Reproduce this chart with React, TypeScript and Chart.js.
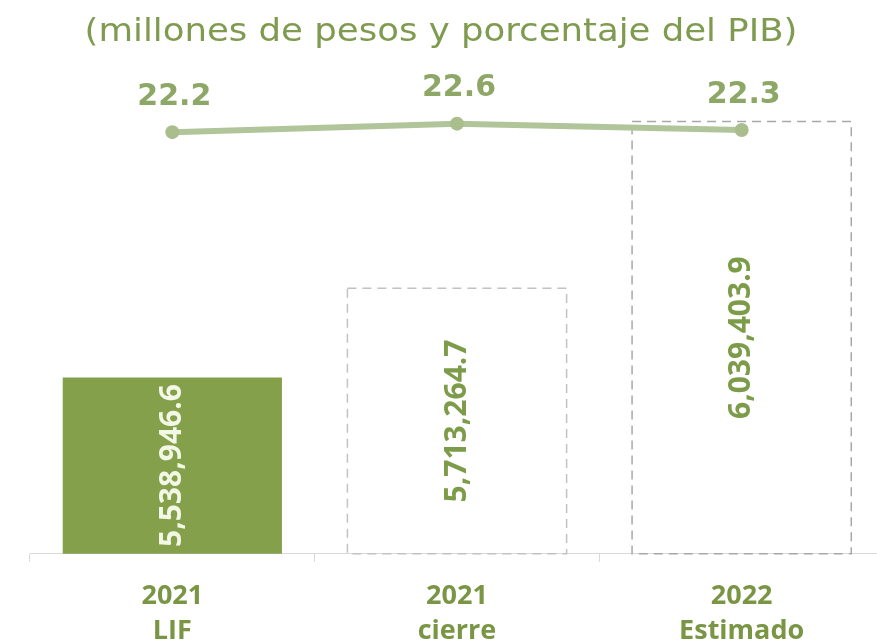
import { useEffect, useRef } from "react";
import { Chart, registerables } from "chart.js";
Chart.register(...registerables);

const categories = [["2021", "LIF"], ["2021", "cierre"], ["2022", "Estimado"]];
const amounts = [5538946.6, 5713264.7, 6039403.9];
const pibShare = [22.2, 22.6, 22.3];
const amountLabels = ["5,538,946.6", "5,713,264.7", "6,039,403.9"];
const shareLabels = ["22.2", "22.6", "22.3"];
const titleText = "(millones de pesos y porcentaje del PIB)";

const barFill = ["#84a04a", "rgba(255,255,255,0)", "rgba(255,255,255,0)"];
const dashColors = ["", "#c2c2c2", "#a8a8a8"];
const barLabelColors = ["#f3f7e6", "#7d9c49", "#7d9c49"];

const overlay = {
  id: "overlay",
  afterDatasetDraw(chart: any, args: any) {
    if (args.index !== 1) return;
    const ctx = chart.ctx;
    const bottom = chart.chartArea.bottom;
    const meta = chart.getDatasetMeta(1);
    meta.data.forEach((el: any, i: number) => {
      if (i === 0) return;
      const { x, y, width } = el.getProps(["x", "y", "width"], true);
      ctx.save();
      ctx.setLineDash([9, 6]);
      ctx.strokeStyle = dashColors[i];
      ctx.lineWidth = 1.5;
      ctx.strokeRect(x - width / 2, y, width, bottom - y);
      ctx.restore();
    });
  },
  afterDraw(chart: any) {
    const ctx = chart.ctx;
    const bottom = chart.chartArea.bottom;
    ctx.save();
    // title
    ctx.save();
    ctx.fillStyle = "#7f9b50";
    ctx.font = '32px "DejaVu Sans"';
    ctx.textAlign = "center";
    ctx.textBaseline = "middle";
    ctx.translate(441, 33);
    ctx.scale(1.11, 1);
    ctx.fillText(titleText, 0, 0);
    ctx.restore();
    // bar labels
    const barMeta = chart.getDatasetMeta(1);
    barMeta.data.forEach((el: any, i: number) => {
      const { x, y } = el.getProps(["x", "y"], true);
      ctx.save();
      ctx.translate(x, (y + bottom) / 2);
      ctx.rotate(-Math.PI / 2);
      ctx.font = 'bold 30px "Noto Sans"';
      ctx.fillStyle = barLabelColors[i];
      ctx.textAlign = "center";
      ctx.textBaseline = "middle";
      ctx.fillText(amountLabels[i], 0, 0);
      ctx.restore();
    });
    // line labels
    const lineMeta = chart.getDatasetMeta(0);
    lineMeta.data.forEach((el: any, i: number) => {
      const { x, y } = el.getProps(["x", "y"], true);
      ctx.font = 'bold 30px "DejaVu Sans"';
      ctx.fillStyle = "#8da766";
      ctx.textAlign = "center";
      ctx.textBaseline = "middle";
      ctx.fillText(shareLabels[i], x + 2, y - 35);
    });
    ctx.restore();
  },
};

export default function App() {
  const ref = useRef<HTMLCanvasElement>(null);
  useEffect(() => {
    if (!ref.current) return;
    const chart = new Chart(ref.current, {
      type: "bar",
      data: {
        labels: categories,
        datasets: [
          {
            type: "line",
            data: pibShare,
            yAxisID: "yLine",
            borderColor: "#b1c59a",
            borderWidth: 6,
            pointRadius: 7,
            pointBackgroundColor: "#a9be8c",
            pointBorderWidth: 0,
            tension: 0,
          } as any,
          {
            type: "bar",
            data: amounts,
            yAxisID: "yBar",
            backgroundColor: barFill,
            borderWidth: 0,
            barPercentage: 0.77,
            categoryPercentage: 1,
          },
        ],
      },
      plugins: [overlay],
      options: {
        responsive: false,
        animation: false,
        devicePixelRatio: 1,
        layout: { padding: { left: 30, right: 0, top: 70, bottom: 0 } },
        plugins: { legend: { display: false }, tooltip: { enabled: false }, title: { display: false } },
        scales: {
          x: {
            offset: true,
            border: { display: true, color: "#d9d9d9", width: 1 },
            grid: { display: true, offset: true, drawOnChartArea: false, drawTicks: true, tickLength: 8, color: "#d9d9d9" },
            ticks: {
              color: "#7a9645",
              padding: 17,
              font: { family: "Open Sans", size: 27, weight: "bold", lineHeight: 1.3 },
            },
          },
          yBar: { display: false, min: 5194000, max: 6140000 },
          yLine: { display: false, min: 2.39, max: 25.12 },
        },
      },
    });
    return () => chart.destroy();
  }, []);
  return (
    <div style={{ position: "fixed", left: 0, top: 0, width: 877, height: 643, overflow: "hidden", background: "#fff" }}>
      <canvas ref={ref} width={891} height={666} style={{ display: "block" }} />
    </div>
  );
}
